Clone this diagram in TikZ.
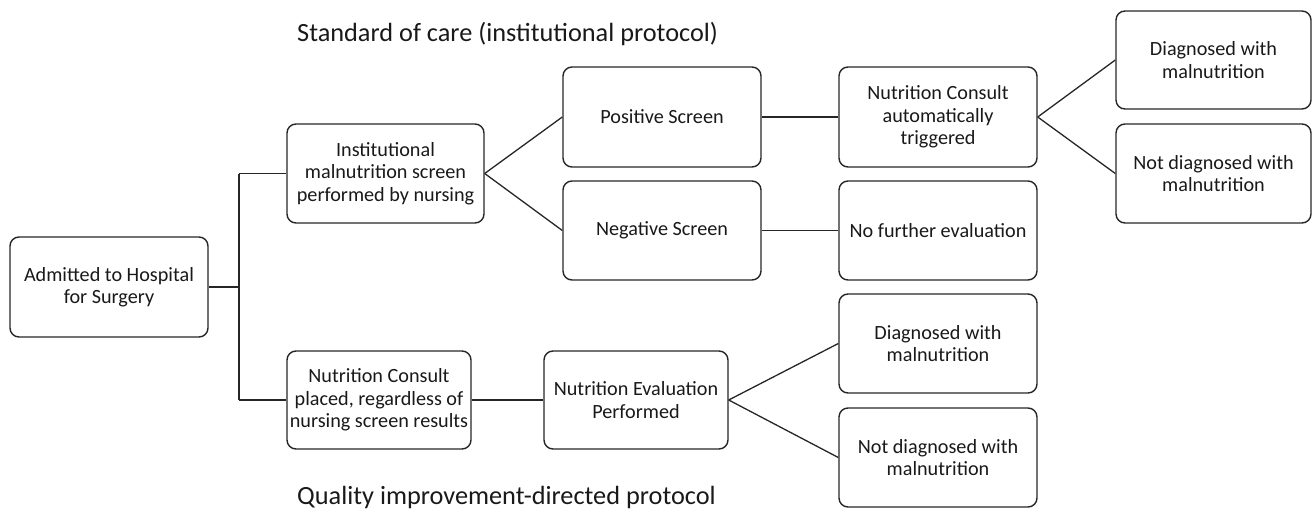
\documentclass[tikz,border=0pt]{standalone}
\usepackage{fontspec}
\setmainfont{Carlito}
\begin{document}
\begin{tikzpicture}[x=1pt,y=-1pt,
  box/.style={draw=black!85, line width=1.4pt, rounded corners=9pt, align=center,
    font=\fontsize{20.2}{22.5}\selectfont, inner sep=0pt, text=black!90},
  conn/.style={draw=black!85, line width=1.3pt},
  title/.style={font=\fontsize{26.3}{30}\selectfont, anchor=base west, inner sep=0pt, text=black!90}]
\useasboundingbox (0,0) rectangle (1312,509);
\def\bx#1#2#3#4#5#6{\node[box, minimum width=#4-#2, minimum height=#5-#3] (#1) at ({(#2+#4)/2},{(#3+#5)/2}) {#6};}
\bx{adm}{10}{237}{208}{337}{Admitted to Hospital\\for Surgery}
\bx{inst}{287}{124}{484}{223}{Institutional\\malnutrition screen\\performed by nursing}
\bx{pos}{563}{67}{761}{167}{Positive Screen}
\bx{neg}{563}{181}{761}{280}{Negative Screen}
\bx{auto}{839}{67}{1037}{167}{Nutrition Consult\\automatically\\triggered}
\bx{nofur}{839}{181}{1037}{280}{No further evaluation}
\bx{diag1}{1116}{11}{1311}{109}{Diagnosed with\\malnutrition}
\bx{ndiag1}{1116}{124}{1311}{223}{Not diagnosed with\\malnutrition}
\bx{placed}{287}{351}{471}{449}{Nutrition Consult\\placed, regardless of\\nursing screen results}
\bx{eval}{544}{351}{728}{449}{Nutrition Evaluation\\Performed}
\bx{diag2}{839}{294}{1037}{393}{Diagnosed with\\malnutrition}
\bx{ndiag2}{839}{408}{1037}{507}{Not diagnosed with\\malnutrition}
\node[title] (t1) at (297,41) {Standard of care (institutional protocol)};
\node[title] (t2) at (297,504) {Quality improvement-directed protocol};
\coordinate (j) at (239,287);
\draw[conn] (adm.east) -- (j);
\draw[conn] (j|-inst.west) -- (j|-placed.west);
\draw[conn] (j|-inst.west) -- (inst.west);
\draw[conn] (j|-placed.west) -- (placed.west);
\draw[conn] (inst.east) -- (pos.west);
\draw[conn] (inst.east) -- (neg.west);
\draw[conn] (pos.east) -- (auto.west);
\draw[conn] (neg.east) -- (nofur.west);
\draw[conn] (auto.east) -- (diag1.west);
\draw[conn] (auto.east) -- (ndiag1.west);
\draw[conn] (placed.east) -- (eval.west);
\draw[conn] (eval.east) -- (diag2.west);
\draw[conn] (eval.east) -- (ndiag2.west);
\end{tikzpicture}
\end{document}
